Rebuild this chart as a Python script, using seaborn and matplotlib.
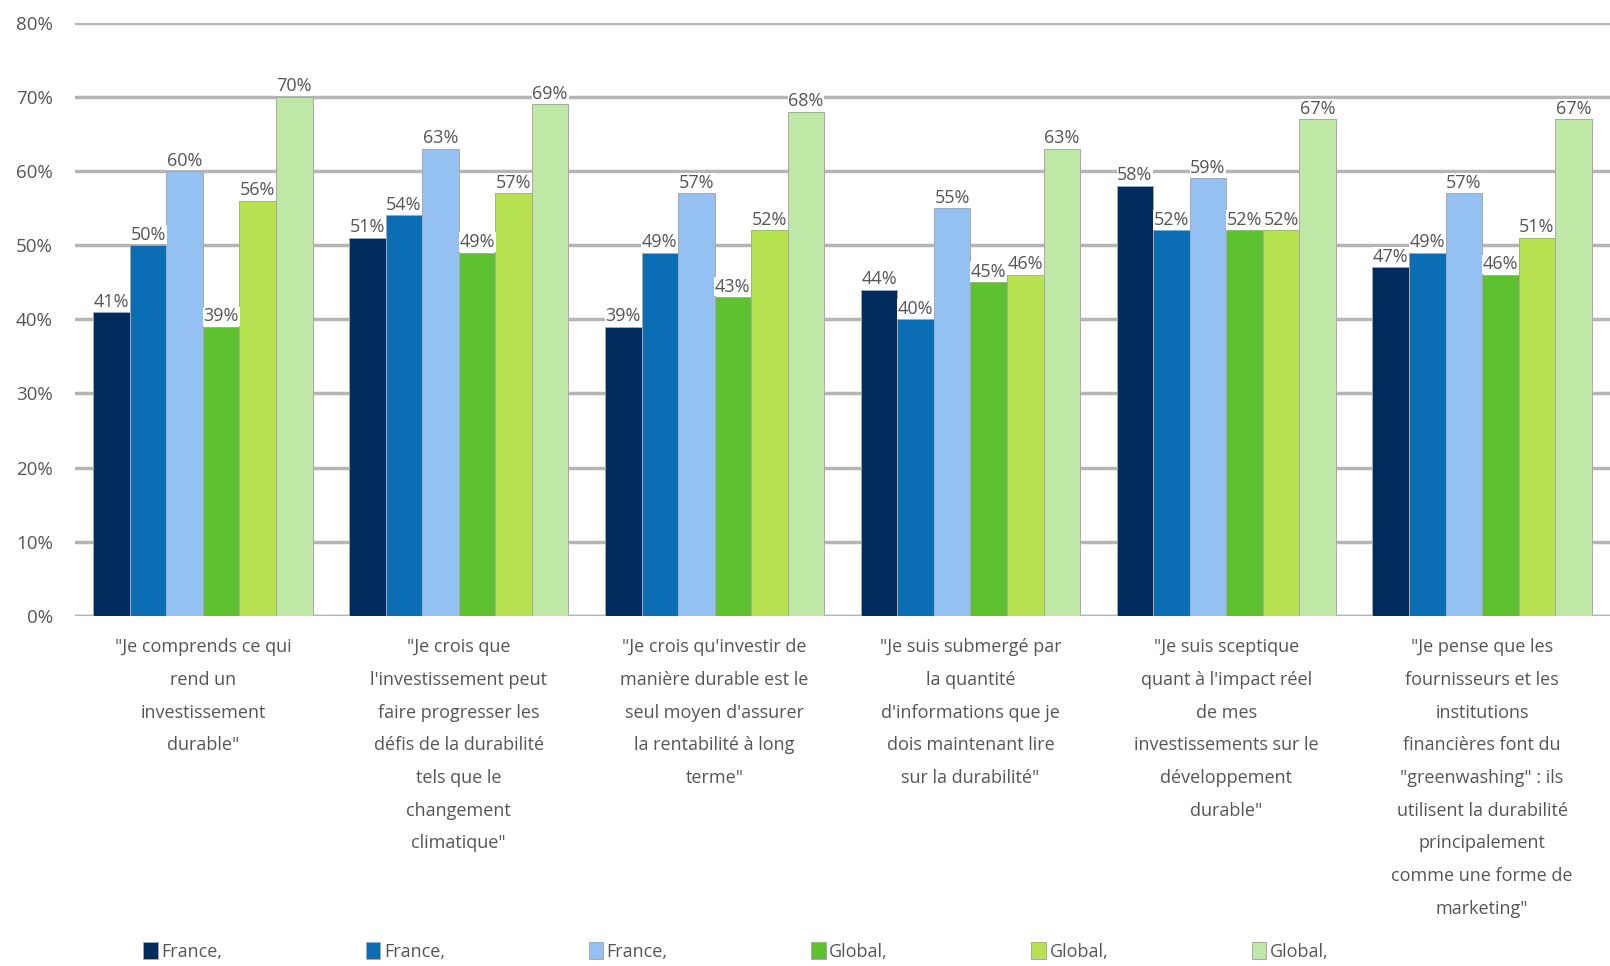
import matplotlib
matplotlib.use("Agg")
import matplotlib.pyplot as plt
import seaborn as sns
import pandas as pd
import numpy as np
from matplotlib.patches import Patch

categories = [
    "\"Je comprends ce qui\nrend un\ninvestissement\ndurable\"",
    "\"Je crois que\nl'investissement peut\nfaire progresser les\ndéfis de la durabilité\ntels que le\nchangement\nclimatique\"",
    "\"Je crois qu'investir de\nmanière durable est le\nseul moyen d'assurer\nla rentabilité à long\nterme\"",
    "\"Je suis submergé par\nla quantité\nd'informations que je\ndois maintenant lire\nsur la durabilité\"",
    "\"Je suis sceptique\nquant à l'impact réel\nde mes\ninvestissements sur le\ndéveloppement\ndurable\"",
    "\"Je pense que les\nfournisseurs et les\ninstitutions\nfinancières font du\n\"greenwashing\" : ils\nutilisent la durabilité\nprincipalement\ncomme une forme de\nmarketing\"",
]
series_names = ["France, A", "France, B", "France, C", "Global, A", "Global, B", "Global, C"]
legend_labels = ["France,", "France,", "France,", "Global,", "Global,", "Global,"]
france_a = [41, 51, 39, 44, 58, 47]
france_b = [50, 54, 49, 40, 52, 49]
france_c = [60, 63, 57, 55, 59, 57]
global_a = [39, 49, 43, 45, 52, 46]
global_b = [56, 57, 52, 46, 52, 51]
global_c = [70, 69, 68, 63, 67, 67]
colors = ["#002b5c", "#0b6db3", "#94c1f2", "#5ec22e", "#b6e24f", "#bfe7a6"]

values = [france_a, france_b, france_c, global_a, global_b, global_c]
rows = []
for s, vals in zip(series_names, values):
    for c, v in zip(categories, vals):
        rows.append({"cat": c, "series": s, "val": v})
df = pd.DataFrame(rows)

sns.set_theme(style="white")
plt.rcParams["font.family"] = ["Open Sans", "DejaVu Sans"]
txt = "#555555"

fig = plt.figure(figsize=(16.1, 9.66), dpi=100)
ax = fig.add_axes([0.0466, 0.3623, 0.9534, 0.6143])

sns.barplot(data=df, x="cat", y="val", hue="series", palette=colors,
            width=6/7, ax=ax, legend=False, edgecolor="#a8a8a8", linewidth=0.7,
            saturation=1, errorbar=None, zorder=3)

ax.set_ylim(0, 80)
ax.set_xlim(-0.5, 5.5)
ax.set_yticks(range(0, 81, 10))
ax.set_yticklabels([f"{t}%" for t in range(0, 81, 10)], fontsize=13.5, color=txt)
ax.yaxis.grid(True, color="#b5b5b5", linewidth=2.5, zorder=0)
ax.set_axisbelow(True)
for sp in ax.spines.values():
    sp.set_visible(False)
ax.axhline(0, color="#b5b5b5", linewidth=2.5, zorder=2)
ax.tick_params(axis="both", length=0, pad=16)
ax.set_xlabel("")
ax.set_ylabel("")
ax.set_xticks(range(len(categories)))
ax.set_xticklabels(categories, fontsize=13, color=txt, linespacing=2.05, va="top")
ax.tick_params(axis="x", pad=16)

for cont in ax.containers:
    labels = ax.bar_label(cont, fmt="%d%%", padding=1, fontsize=13, color=txt, zorder=4)
    for t in labels:
        t.set_bbox(dict(facecolor="white", edgecolor="none", pad=0.5))

handles = [Patch(facecolor=c, edgecolor="#a8a8a8", linewidth=0.7) for c in colors]
fig.legend(handles, legend_labels, loc="center left", bbox_to_anchor=(0.079, 0.015),
           ncol=6, frameon=False, fontsize=13, handlelength=0.8, handleheight=1.1,
           handletextpad=0.2, columnspacing=7.95, labelcolor=txt)

fig.savefig("out.png", dpi=100)
